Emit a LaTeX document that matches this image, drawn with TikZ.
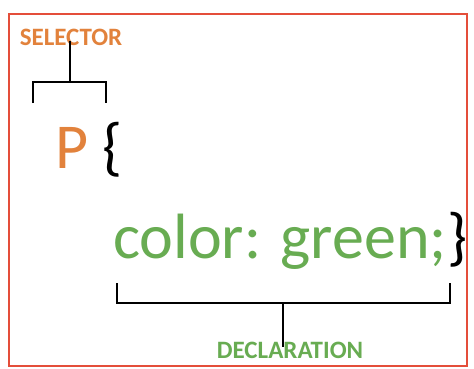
\documentclass[tikz,border=0pt]{standalone}
\usepackage{fontspec}
\setmainfont{Carlito}
\definecolor{selorange}{RGB}{226,130,60}
\definecolor{declgreen}{RGB}{104,172,82}
\definecolor{frame}{RGB}{228,78,58}
\begin{document}
\begin{tikzpicture}[x=1pt,y=-1pt,
  label/.style={inner sep=0pt,font=\fontsize{25}{25}\selectfont\bfseries},
  code/.style={inner sep=0pt,anchor=base west,font=\fontsize{64}{64}\selectfont},
  bracket/.style={line width=2.4pt,black}]
\useasboundingbox (0,0) rectangle (474,368);
\fill[white] (0,0) rectangle (474,368);
\draw[frame,line width=2pt] (9,14) rectangle (467,366);
\node[label,text=selorange] (sel) at (71,37) {SELECTOR};
\node[code,text=selorange] (p) at (55,168) {P};
\node[code] (ob) at (102,168) {\{};
\node[code,text=declgreen] (decl) at (113,258) {color: green;};
\node[code,anchor=base west] (cb) at (decl.base east) {\}};
\node[label,text=declgreen] (dl) at (290,350) {DECLARATION};
\coordinate (sl) at (33,103);
\coordinate (sr) at (106,103);
\coordinate (sm) at (70,82);
\draw[bracket] (sl) |- (sm) -| (sr);
\draw[bracket] (sm) -- ([yshift=4pt]sm |- sel.south);
\coordinate (dleft) at (117,283);
\coordinate (dright) at (450,283);
\coordinate (dm) at (283,303);
\draw[bracket] (dleft) |- (dm) -| (dright);
\draw[bracket] (dm) -- ([yshift=-5pt]dm |- dl.north);
\end{tikzpicture}
\end{document}
